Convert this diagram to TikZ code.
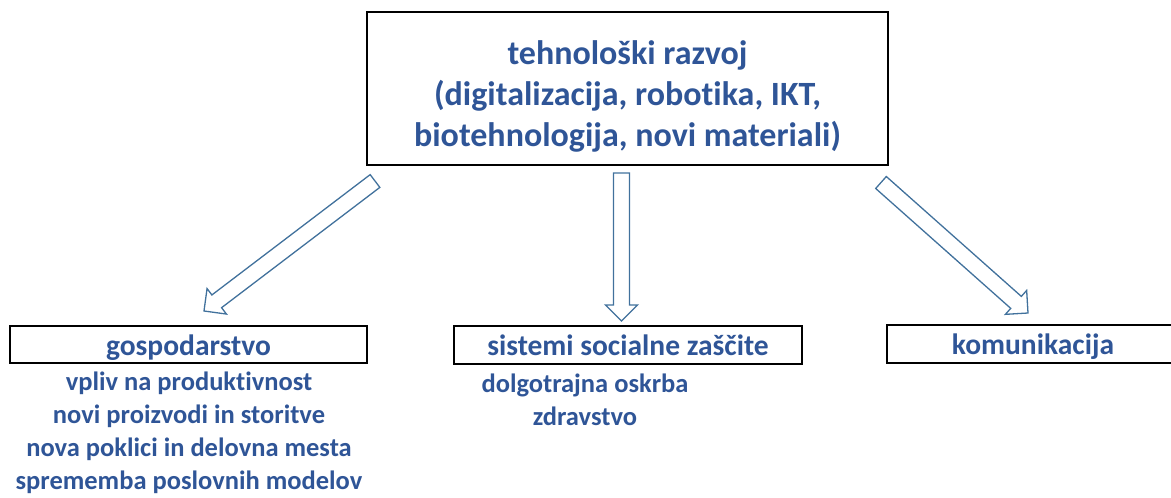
\documentclass[tikz,border=0pt]{standalone}
\usepackage{fontspec}
\setmainfont{Carlito}[Ligatures={NoCommon}]
\usetikzlibrary{calc}
\definecolor{txtblue}{RGB}{47,85,151}
\definecolor{arrblue}{RGB}{65,113,156}
\newcommand{\hollowarrow}[2]{%
  \coordinate (hb) at ($(#2)!16pt!(#1)$);
  \draw[arrline] ($(#1)!8pt!90:(#2)$) -- ($(hb)!8pt!-90:(#1)$) -- ($(hb)!16pt!-90:(#1)$) -- (#2)
    -- ($(hb)!16pt!90:(#1)$) -- ($(hb)!8pt!90:(#1)$) -- ($(#1)!8pt!-90:(#2)$) -- cycle;}
\begin{document}
\begin{tikzpicture}[x=1pt,y=-1pt,
    txt/.style={text=txtblue,font=\fontsize{26.5}{33}\selectfont\bfseries,align=center,inner sep=0pt},
    box/.style={draw,line width=2pt,inner sep=0pt},
    head/.style={box,txt,font=\fontsize{29.5}{33}\selectfont\bfseries,text height=24pt,text depth=3pt}]
  \tikzset{arrline/.style={draw=arrblue,line width=1.3pt,line join=miter}}
  \useasboundingbox (0,0) rectangle (1171,498);
  \clip (0,0) rectangle (1171,498);
  \node[box,line width=2.4pt,minimum width=521,minimum height=153,txt,font=\fontsize{34}{41}\selectfont\bfseries] (tr) at (627.5,88.5)
    {\rule{0pt}{39pt}tehnološki razvoj\\(digitalizacija, robotika, IKT,\\biotehnologija, novi materiali)};
  \node[head,minimum width=357,minimum height=37] (gosp) at (188.5,344.5) {gospodarstvo};
  \node[head,minimum width=348,minimum height=38] (soc) at (628,345) {sistemi socialne zaščite};
  \node[head,minimum width=300,minimum height=38] (kom) at (1037,344) {\hspace*{-8pt}komunikacija};
  \node[txt] (gospl) at (189,433) {vpliv na produktivnost\\novi proizvodi in storitve\\nova poklici in delovna mesta\\sprememba poslovnih modelov};
  \node[txt] (socl) at (585,400) {dolgotrajna oskrba\\zdravstvo};
  \coordinate (a1) at (375,181); \coordinate (b1) at (204,311);
  \coordinate (a2) at (621.5,173); \coordinate (b2) at (621.5,321);
  \coordinate (a3) at (881,182.5); \coordinate (b3) at (1028,313);
  \hollowarrow{a1}{b1}
  \hollowarrow{a2}{b2}
  \hollowarrow{a3}{b3}
\end{tikzpicture}
\end{document}
